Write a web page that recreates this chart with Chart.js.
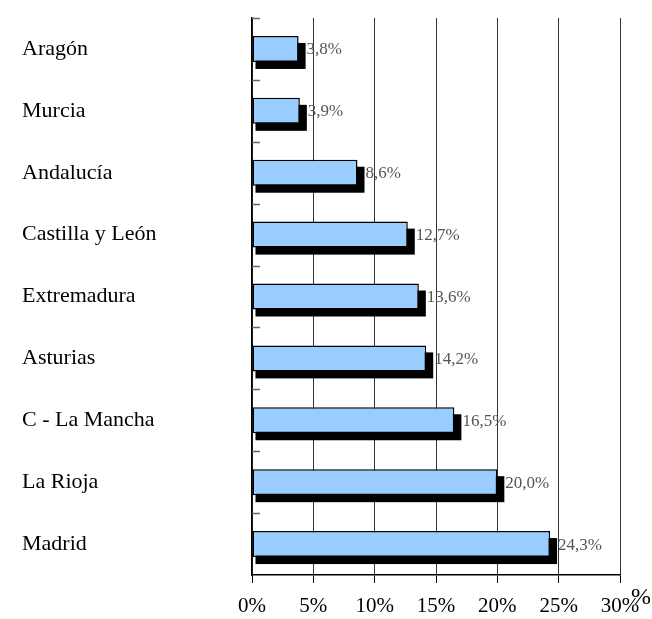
<!DOCTYPE html>
<html>
<head>
<meta charset="utf-8">
<script src="https://cdn.jsdelivr.net/npm/chart.js@4/dist/chart.umd.min.js"></script>
<style>
  html, body { margin: 0; padding: 0; background: #fff; }
  #wrap { width: 652px; height: 619px; }
</style>
</head>
<body>
<div id="wrap"><canvas id="c" width="652" height="619"></canvas></div>
<script>
const categories = ['Aragón', 'Murcia', 'Andalucía', 'Castilla y León', 'Extremadura', 'Asturias', 'C - La Mancha', 'La Rioja', 'Madrid'];
const values = [3.8, 3.9, 8.6, 12.7, 13.6, 14.2, 16.5, 20.0, 24.3];
const xTickValues = [0, 5, 10, 15, 20, 25, 30];
const axisUnit = '%';

const FONT = "'Liberation Serif', 'Times New Roman', serif";

const shadowPlugin = {
  id: 'barShadow',
  beforeDatasetsDraw(chart) {
    const ctx = chart.ctx;
    const meta = chart.getDatasetMeta(0);
    ctx.save();
    ctx.fillStyle = '#000';
    meta.data.forEach(el => {
      const p = el.getProps(['x', 'y', 'base', 'height'], true);
      const top = p.y - p.height / 2;
      ctx.fillRect(p.base + 3, top + 7, (p.x - p.base) + 4, p.height);
    });
    ctx.restore();
  }
};

const labelPlugin = {
  id: 'valueLabels',
  afterDatasetsDraw(chart) {
    const ctx = chart.ctx;
    const meta = chart.getDatasetMeta(0);
    ctx.save();
    ctx.font = '17px ' + FONT;
    ctx.fillStyle = '#555';
    ctx.textAlign = 'left';
    ctx.textBaseline = 'middle';
    meta.data.forEach((el, i) => {
      const p = el.getProps(['x', 'y'], true);
      ctx.fillText(values[i].toFixed(1).replace('.', ',') + '%', p.x + 8, p.y + 1);
    });
    ctx.restore();
  }
};

const innerTicksPlugin = {
  id: 'innerTicks',
  afterDraw(chart) {
    const ctx = chart.ctx;
    const ys = chart.scales.y;
    const left = chart.chartArea.left;
    const n = categories.length;
    ctx.save();
    ctx.strokeStyle = '#666';
    ctx.lineWidth = 1.5;
    for (let i = 0; i < n; i++) {
      const yb = ys.getPixelForValue(i - 0.5);
      ctx.beginPath();
      ctx.moveTo(left, Math.round(yb) + 0.5);
      ctx.lineTo(left + 8, Math.round(yb) + 0.5);
      ctx.stroke();
    }
    ctx.font = '24px ' + FONT;
    ctx.fillStyle = '#000';
    ctx.textAlign = 'center';
    ctx.textBaseline = 'middle';
    ctx.fillText(axisUnit, chart.chartArea.right + 21, chart.chartArea.bottom + 23);
    ctx.restore();
  }
};

new Chart(document.getElementById('c'), {
  type: 'bar',
  data: {
    labels: categories,
    datasets: [{
      data: values,
      backgroundColor: '#99CCFF',
      borderColor: '#000',
      borderWidth: 1.5,
      borderSkipped: false,
      categoryPercentage: 1,
      barPercentage: 0.42
    }]
  },
  options: {
    indexAxis: 'y',
    responsive: false,
    animation: false,
    events: [],
    layout: { padding: { left: 22, top: 18, right: 32, bottom: 0 } },
    plugins: {
      legend: { display: false },
      tooltip: { enabled: false },
      title: { display: false }
    },
    scales: {
      x: {
        type: 'linear',
        min: 0,
        max: 30,
        afterBuildTicks(scale) {
          scale.ticks = xTickValues.map(v => ({ value: v }));
        },
        afterFit(scale) { scale.height = 44; },
        ticks: {
          callback: v => v + '%',
          color: '#000',
          font: { family: FONT, size: 21 },
          padding: 11,
          maxRotation: 0
        },
        grid: {
          color: '#333',
          lineWidth: 1,
          tickLength: 8,
          tickColor: '#000',
          drawTicks: true
        },
        border: { display: true, color: '#000', width: 1.5 }
      },
      y: {
        type: 'category',
        offset: true,
        afterFit(scale) { scale.width = 230; },
        ticks: {
          crossAlign: 'far',
          color: '#000',
          font: { family: FONT, size: 22 },
          padding: 0
        },
        grid: { display: false, drawTicks: false },
        border: { display: true, color: '#000', width: 1.5 }
      }
    }
  },
  plugins: [shadowPlugin, labelPlugin, innerTicksPlugin]
});
</script>
</body>
</html>
